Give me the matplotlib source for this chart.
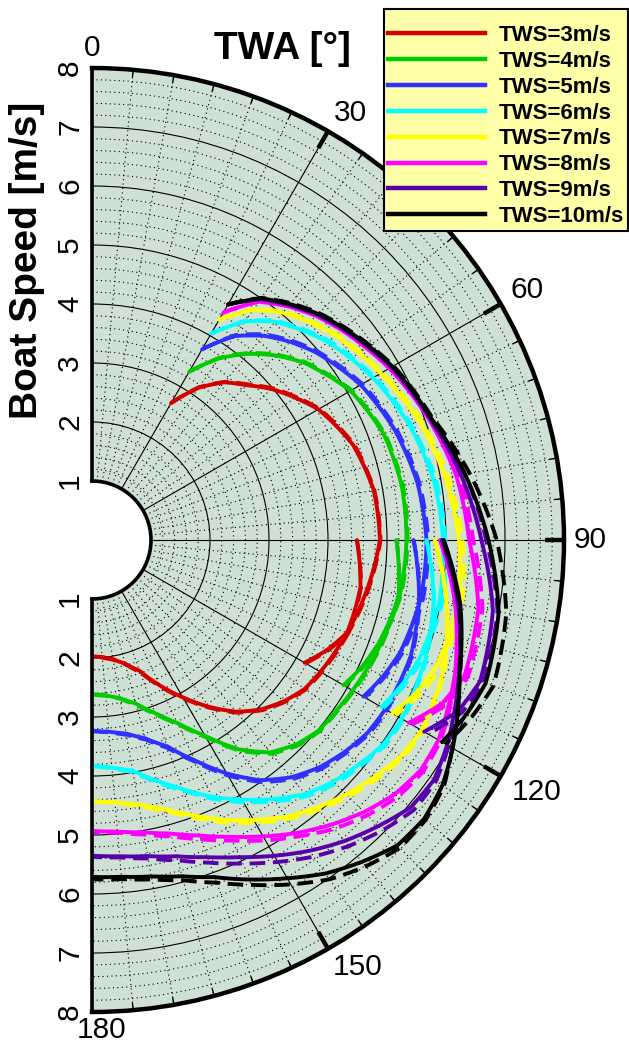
import numpy as np
import matplotlib
matplotlib.use("Agg")
import matplotlib.pyplot as plt
from matplotlib.ticker import FixedLocator, MultipleLocator
from matplotlib.path import Path
from matplotlib.patches import PathPatch
from matplotlib.lines import Line2D

plt.rcParams['font.family'] = ['Liberation Sans', 'DejaVu Sans']

# ---------------- data ----------------
TWS_LABELS = ["TWS=3m/s", "TWS=4m/s", "TWS=5m/s", "TWS=6m/s",
              "TWS=7m/s", "TWS=8m/s", "TWS=9m/s", "TWS=10m/s"]
COLORS = ["#d40000", "#00cc00", "#3030ff", "#00ffff",
          "#ffff00", "#ff00ff", "#5a00aa", "#000000"]

THETA_TICKS = [0, 30, 60, 90, 120, 150, 180]
THETA_MINOR = list(range(0, 181, 5))
R_TICKS = [1, 2, 3, 4, 5, 6, 7, 8]

# upwind-sail curves (TWA 30..120)
ANG_A = [30, 35, 40, 45, 50, 60, 70, 80, 90, 100, 110, 115, 120]
A3  = [2.68, 3.15, 3.49, 3.71, 3.98, 4.43, 4.71, 4.85, 4.88, 4.74, 4.60, 4.40, 4.16]
A4  = [3.29, 3.76, 4.12, 4.42, 4.68, 5.06, 5.26, 5.33, 5.33, 5.30, 5.16, 5.06, 4.92]
A5  = [3.73, 4.22, 4.52, 4.75, 4.95, 5.26, 5.46, 5.60, 5.67, 5.66, 5.56, 5.45, 5.31]
A6  = [4.04, 4.52, 4.83, 5.03, 5.22, 5.50, 5.72, 5.88, 5.95, 5.98, 5.90, 5.80, 5.66]
A7  = [4.31, 4.76, 5.03, 5.22, 5.39, 5.65, 5.90, 6.08, 6.22, 6.30, 6.22, 6.08, 5.88]
A8  = [4.45, 4.93, 5.17, 5.37, 5.53, 5.82, 6.06, 6.27, 6.39, 6.65, 6.72, 6.55, 6.20]
A9  = [4.61, 4.98, 5.20, 5.40, 5.56, 5.86, 6.08, 6.35, 6.60, 6.90, 7.00, 6.85, 6.50]
A10 = [4.61, 5.00, 5.22, 5.42, 5.58, 5.88, 6.10, 6.42, 6.72, 7.00, 7.10, 7.00, 6.85]
A3D  = [2.68, 3.16, 3.50, 3.73, 4.00, 4.45, 4.73, 4.86, 4.89, 4.76, 4.62, 4.42, 4.18]
A4D  = [3.29, 3.77, 4.14, 4.44, 4.70, 5.08, 5.28, 5.35, 5.35, 5.32, 5.19, 5.08, 4.94]
A5D  = [3.73, 4.24, 4.55, 4.78, 4.98, 5.29, 5.49, 5.63, 5.70, 5.70, 5.60, 5.48, 5.34]
A6D  = [4.04, 4.54, 4.85, 5.06, 5.25, 5.53, 5.75, 5.92, 5.99, 6.03, 5.95, 5.84, 5.70]
A7D  = [4.31, 4.78, 5.05, 5.25, 5.42, 5.68, 5.94, 6.13, 6.28, 6.37, 6.30, 6.15, 5.94]
A8D  = [4.45, 4.95, 5.19, 5.40, 5.56, 5.85, 6.10, 6.32, 6.46, 6.72, 6.78, 6.62, 6.26]
A9D  = [4.61, 5.00, 5.23, 5.43, 5.59, 5.89, 6.12, 6.42, 6.68, 6.98, 7.06, 6.92, 6.58]
A10D = [4.61, 5.01, 5.24, 5.44, 5.60, 5.90, 6.12, 6.50, 6.86, 7.13, 7.24, 7.10, 6.92]

# downwind-sail curves (TWA 90..180)
ANG_B = [90, 100, 110, 120, 125, 130, 135, 140, 145, 150, 155, 160, 165, 170, 175, 180]
B3  = [4.49, 4.62, 4.60, 4.47, 4.40, 4.25, 4.06, 3.80, 3.45, 3.08, 2.72, 2.36, 2.17, 2.05, 1.99, 1.97]
B4  = [5.16, 5.28, 5.20, 5.10, 5.05, 5.02, 4.90, 4.70, 4.33, 3.83, 3.42, 3.12, 2.87, 2.72, 2.64, 2.61]
B5  = [5.45, 5.63, 5.75, 5.74, 5.70, 5.59, 5.45, 5.25, 4.97, 4.57, 4.12, 3.72, 3.48, 3.33, 3.26, 3.23]
B6  = [5.67, 5.88, 6.00, 6.06, 6.03, 5.91, 5.79, 5.62, 5.36, 5.08, 4.80, 4.49, 4.22, 3.97, 3.87, 3.82]
B7  = [5.81, 6.10, 6.35, 6.45, 6.39, 6.25, 6.10, 5.92, 5.73, 5.48, 5.23, 4.96, 4.72, 4.55, 4.46, 4.42]
B8  = [5.90, 6.25, 6.55, 6.78, 6.80, 6.70, 6.52, 6.30, 6.06, 5.80, 5.55, 5.33, 5.15, 5.03, 4.96, 4.93]
B9  = [5.93, 6.30, 6.62, 6.95, 7.08, 7.05, 6.86, 6.66, 6.43, 6.18, 5.93, 5.72, 5.55, 5.44, 5.38, 5.35]
B10 = [5.96, 6.34, 6.63, 7.06, 7.25, 7.35, 7.32, 7.12, 6.90, 6.62, 6.35, 6.08, 5.90, 5.79, 5.73, 5.71]
B3D  = [4.49, 4.63, 4.62, 4.49, 4.42, 4.27, 4.08, 3.82, 3.47, 3.10, 2.74, 2.38, 2.18, 2.06, 2.00, 1.98]
B4D  = [5.16, 5.29, 5.22, 5.12, 5.07, 5.04, 4.93, 4.73, 4.36, 3.86, 3.44, 3.14, 2.89, 2.73, 2.65, 2.62]
B5D  = [5.45, 5.64, 5.77, 5.77, 5.73, 5.62, 5.49, 5.29, 5.01, 4.61, 4.15, 3.75, 3.50, 3.35, 3.27, 3.24]
B6D  = [5.67, 5.89, 6.02, 6.09, 6.07, 5.95, 5.84, 5.67, 5.41, 5.13, 4.84, 4.52, 4.25, 3.99, 3.88, 3.83]
B7D  = [5.81, 6.11, 6.37, 6.48, 6.43, 6.30, 6.15, 5.97, 5.78, 5.53, 5.28, 5.00, 4.75, 4.57, 4.47, 4.43]
B8D  = [5.90, 6.26, 6.57, 6.82, 6.85, 6.77, 6.60, 6.39, 6.13, 5.88, 5.62, 5.40, 5.20, 5.07, 4.98, 4.95]
B9D  = [5.93, 6.31, 6.64, 6.98, 7.12, 7.12, 6.96, 6.77, 6.55, 6.30, 6.05, 5.82, 5.62, 5.48, 5.40, 5.37]
B10D = [5.96, 6.32, 6.62, 7.05, 7.28, 7.38, 7.38, 7.22, 7.02, 6.74, 6.45, 6.18, 5.97, 5.84, 5.77, 5.75]

A_SOLID = [A3, A4, A5, A6, A7, A8, A9, A10]
A_DASH = [A3D, A4D, A5D, A6D, A7D, A8D, A9D, A10D]
B_SOLID = [B3, B4, B5, B6, B7, B8, B9, B10]
B_DASH = [B3D, B4D, B5D, B6D, B7D, B8D, B9D, B10D]

# ---------------- figure ----------------
W, H = 629, 1045
fig = plt.figure(figsize=(W / 100, H / 100), dpi=100)
cx, cy, R = 92, 540, 472
# square box; the half wedge is centred in it
ax = fig.add_axes([(cx + R / 2 - R) / W, 1 - (cy + R) / H, 2 * R / W, 2 * R / H],
                  projection='polar')
ax.set_theta_zero_location('N')
ax.set_theta_direction(-1)
ax.set_thetamin(0)
ax.set_thetamax(180)
ax.set_ylim(1, 8)
ax.set_rorigin(0)
ax.set_facecolor('#cfe0d4')

ax.set_xticks(np.deg2rad(THETA_TICKS))
ax.set_xticklabels([])
ax.xaxis.set_minor_locator(FixedLocator(np.deg2rad(THETA_MINOR)))
ax.set_yticks(R_TICKS)
ax.yaxis.set_minor_locator(MultipleLocator(0.2))
ax.set_yticklabels([])
ax.tick_params(axis='both', which='both', length=0)

ax.grid(True, which='major', color='black', lw=0.8, ls='-')
ax.grid(True, which='minor', color='black', lw=0.8, ls=(0, (1, 3)))

ax.spines['polar'].set_linewidth(3.2)
ax.spines['start'].set_linewidth(2.6)
ax.spines['end'].set_linewidth(2.6)
ax.spines['inner'].set_linewidth(2.6)

# inward tick marks on the outer rim
rmax = R_TICKS[-1]
for t in THETA_MINOR:
    ax.plot([np.deg2rad(t)] * 2, [rmax - 0.13, rmax], color='black', lw=1.0,
            zorder=3, solid_capstyle='butt')
for t in THETA_TICKS[1:-1]:
    ax.plot([np.deg2rad(t)] * 2, [rmax - 0.33, rmax], color='black', lw=3.2,
            zorder=3, solid_capstyle='butt')


def polar_curve(theta_deg, r, color, dashed):
    path = Path(np.column_stack([np.deg2rad(theta_deg), r]),
                _interpolation_steps=16)
    kw = dict(fill=False, edgecolor=color, lw=2.8, zorder=2.2)
    if dashed:
        kw.update(linestyle=(0, (4, 2)), capstyle='butt')
    else:
        kw.update(capstyle='round', joinstyle='round')
    ax.add_patch(PathPatch(path, **kw))


handles = []
for i, col in enumerate(COLORS):
    polar_curve(ANG_A, A_SOLID[i], col, False)
    polar_curve(ANG_A, A_DASH[i], col, True)
    polar_curve(ANG_B, B_SOLID[i], col, False)
    polar_curve(ANG_B, B_DASH[i], col, True)
    handles.append(Line2D([], [], color=col, lw=3.2))

# theta labels, offset (pixels) from the rim
THETA_LABEL_OFFSETS = [(0, 20), (22, 18), (26, 14), (26, 0), (36, -16), (30, -18), (10, -18)]
for t, (ox, oy) in zip(THETA_TICKS, THETA_LABEL_OFFSETS):
    ax.annotate(str(t), xy=(np.deg2rad(t), rmax), xycoords='data',
                xytext=(ox, oy), textcoords='offset pixels', ha='center',
                va='center', fontsize=21.5, annotation_clip=False)

# radial labels along the straight edges
for r in R_TICKS:
    for th in (0.0, np.pi):
        ax.annotate(str(r), xy=(th, r), xycoords='data', xytext=(-22, 0),
                    textcoords='offset pixels', rotation=90, ha='center',
                    va='center', fontsize=21.5, annotation_clip=False)

fig.text(282 / W, 1 - 49 / H, 'TWA [°]', ha='center', va='center',
         fontsize=28, fontweight='bold')
fig.text(27 / W, 1 - 260 / H, 'Boat Speed [m/s]', ha='center', va='center',
         fontsize=28, fontweight='bold', rotation=90)

leg = fig.legend(handles, TWS_LABELS, loc='upper right',
                 bbox_to_anchor=(628 / W, 1 - 9 / H),
                 prop={'weight': 'bold', 'size': 16}, frameon=True,
                 fancybox=False, edgecolor='black', facecolor='#ffffa8',
                 framealpha=1, handlelength=4.4, handletextpad=0.6,
                 labelspacing=0.22, borderpad=0.18, borderaxespad=0,
                 title=' ', title_fontsize=5.5)
leg.get_frame().set_linewidth(1.5)

fig.savefig('out.png', dpi=100)
